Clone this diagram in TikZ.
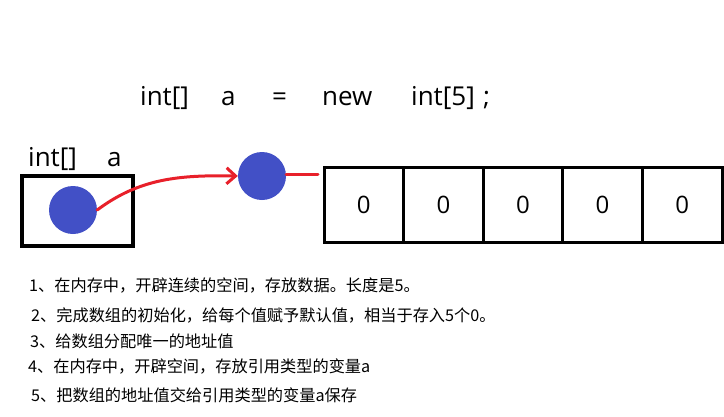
\documentclass[tikz,border=0pt]{standalone}
\usepackage{fontspec}
\setmainfont{Open Sans}
\newfontfamily\cjk{Noto Sans CJK SC}
\usetikzlibrary{arrows.meta}
\definecolor{dotblue}{HTML}{4250C6}
\definecolor{penred}{HTML}{E8202A}
\tikzset{
  code/.style={font=\fontsize{26}{28}\selectfont, inner sep=0pt, anchor=base west},
  dot/.style={circle, fill=dotblue, minimum size=48pt, inner sep=0pt},
  memcell/.style={draw, line width=3pt, minimum width=79.6pt, minimum height=75pt, inner sep=0pt, outer sep=0pt, font=\fontsize{24}{26}\selectfont},
  note/.style={font=\cjk\fontsize{16.2}{18}\selectfont, inner sep=0pt, anchor=west},
  pen/.style={penred, line width=3pt, line cap=round},
}
\begin{document}
\begin{tikzpicture}[x=1pt,y=-1pt]
\useasboundingbox (0,0) rectangle (724,416);
% title
\node[code] (t1) at (140,105) {int[]};
\node[code] (t2) at (221,105) {a};
\node[code] (t3) at (272,105) {=};
\node[code] (t4) at (322,105) {new};
\node[code] (t5) at (411,105) {int[5]};
\node[code] (t6) at (483,105) {;};
% variable label
\node[code] (v1) at (28,166) {int[]};
\node[code] (v2) at (107,166) {a};
% variable box
\node[draw, line width=3.5pt, minimum width=111pt, minimum height=70pt, inner sep=0pt] (box) at (77.5,211) {};
\node[dot] (d1) at (73,210) {};
\node[dot] (d2) at (262,176) {};
% array
\node[memcell] (c1) at (363.8,204.5) {0};
\node[memcell, anchor=west] (c2) at (c1.east) {0};
\node[memcell, anchor=west] (c3) at (c2.east) {0};
\node[memcell, anchor=west] (c4) at (c3.east) {0};
\node[memcell, anchor=west] (c5) at (c4.east) {0};
% arrows
\draw[pen, -{Straight Barb[length=9pt,width=16pt,line width=3pt]}] (d1.east) .. controls (140,178) and (180,175) .. (d2.west);
\draw[pen] (d2.east |- 0,174) -- (318,174);
% notes
\node[note] (n1) at (29,286) {1、在内存中，开辟连续的空间，存放数据。长度是5。};
\node[note] (n2) at (31,315) {2、完成数组的初始化，给每个值赋予默认值，相当于存入5个0。};
\node[note] (n3) at (30,341) {3、给数组分配唯一的地址值};
\node[note] (n4) at (28,366) {4、在内存中，开辟空间，存放引用类型的变量a};
\node[note] (n5) at (31,395) {5、把数组的地址值交给引用类型的变量a保存};
\end{tikzpicture}
\end{document}
